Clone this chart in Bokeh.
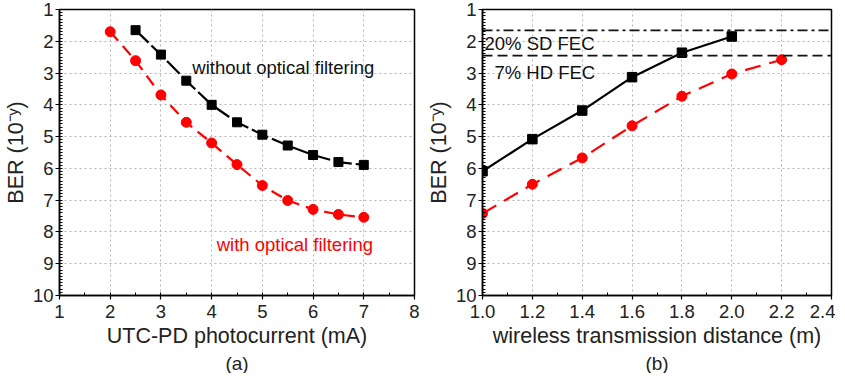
from bokeh.plotting import figure
from bokeh.models import Range1d, SingleIntervalTicker, FixedTicker, PrintfTickFormatter, Title, Span, Label
from bokeh.layouts import row
from bokeh.embed import file_html
from bokeh.resources import INLINE

# ---- data: panel (a) ----
current_wo = [2.5, 3.0, 3.5, 4.0, 4.5, 5.0, 5.5, 6.0, 6.5, 7.0]
ber_wo = [1.65, 2.42, 3.24, 4.0, 4.55, 4.94, 5.28, 5.58, 5.80, 5.89]
current_w = [2.0, 2.5, 3.0, 3.5, 4.0, 4.5, 5.0, 5.5, 6.0, 6.5, 7.0]
ber_w = [1.70, 2.61, 3.69, 4.55, 5.20, 5.88, 6.54, 7.01, 7.29, 7.45, 7.54]

# ---- data: panel (b) ----
dist_wo = [1.0, 1.2, 1.4, 1.6, 1.8, 2.0]
ber_dist_wo = [6.09, 5.08, 4.18, 3.13, 2.36, 1.85]
dist_w = [1.0, 1.2, 1.4, 1.6, 1.8, 2.0, 2.2]
ber_dist_w = [7.42, 6.50, 5.67, 4.66, 3.73, 3.03, 2.58]
sd_fec = 1.66
hd_fec = 2.45

xb_ticks = [1.0, 1.2, 1.4, 1.6, 1.8, 2.0, 2.2, 2.4]
xb_minor = [1.1, 1.3, 1.5, 1.7, 1.9, 2.1, 2.3]

FONT = "Liberation Sans"
RED = "#ff0000"
BLK = "#000000"


def style(p, xlabel, panel):
    p.outline_line_color = "black"
    p.outline_line_width = 1.5
    for ax in (p.xaxis[0], p.yaxis[0]):
        ax.axis_line_width = 1.5
        ax.major_tick_out = 4
        ax.major_tick_in = 0
        ax.minor_tick_in = 3
        ax.minor_tick_out = 0
        ax.major_tick_line_width = 1.2
        ax.minor_tick_line_width = 1
        ax.major_label_text_font = FONT
        ax.major_label_text_font_size = "18.5px"
        ax.major_label_text_color = "#222222"
        ax.axis_label_text_font = FONT
        ax.axis_label_text_font_size = "21.5px"
        ax.axis_label_text_font_style = "normal"
        ax.axis_label_text_color = "#222222"
    p.xaxis.axis_label = xlabel
    p.yaxis.axis_label = "BER (10⁻ʸ)"
    p.xaxis.major_label_standoff = 5
    p.xaxis.axis_label_standoff = 3
    p.yaxis.major_label_standoff = 2
    p.yaxis.axis_label_standoff = 2
    p.grid.grid_line_color = "#b5b5b5"
    p.grid.grid_line_dash = "2 3"
    p.grid.grid_line_width = 1
    t = Title(text=panel, align="center", text_font=FONT, text_font_size="19px",
              text_font_style="normal", text_color="#222222", standoff=0, offset=0)
    p.add_layout(t, "below")


# ---- panel (a) ----
pa = figure(frame_width=355, frame_height=286, output_backend="svg", toolbar_location=None,
            x_range=Range1d(1, 8), y_range=Range1d(10, 1),
            min_border_left=56, min_border_right=9, min_border_top=9, min_border_bottom=68)
pa.xaxis.ticker = SingleIntervalTicker(interval=1, num_minor_ticks=2)
pa.yaxis.ticker = SingleIntervalTicker(interval=1, num_minor_ticks=10)
style(pa, "UTC-PD photocurrent (mA)", "(a)")

pa.line(current_w, ber_w, line_color=RED, line_width=2.2, line_dash="12 7")
pa.scatter(current_w, ber_w, marker="circle", size=10, fill_color=RED, line_color=RED)
pa.line(current_wo, ber_wo, line_color=BLK, line_width=2.2, line_dash="18 4")
pa.scatter(current_wo, ber_wo, marker="square", size=9, fill_color=BLK, line_color=BLK)

pa.add_layout(Label(x=3.62, y=2.82, text="without optical filtering", text_font=FONT,
                    text_font_size="18.5px", text_color="#111111", text_baseline="middle"))
pa.add_layout(Label(x=4.10, y=8.39, text="with optical filtering", text_font=FONT,
                    text_font_size="18.5px", text_color=RED, text_baseline="middle"))

# ---- panel (b) ----
pb = figure(frame_width=349, frame_height=286, output_backend="svg", toolbar_location=None,
            x_range=Range1d(1.0, 2.4), y_range=Range1d(10, 1),
            min_border_left=52, min_border_right=4, min_border_top=9, min_border_bottom=68)
pb.xaxis.ticker = FixedTicker(ticks=xb_ticks, minor_ticks=xb_minor)
pb.xaxis.formatter = PrintfTickFormatter(format="%.1f")
pb.yaxis.ticker = SingleIntervalTicker(interval=1, num_minor_ticks=10)
style(pb, "wireless transmission distance (m)", "(b)")

pb.add_layout(Span(location=sd_fec, dimension="width", line_color="#111111",
                   line_width=1.8, line_dash="10 4 3 4"))
pb.add_layout(Span(location=hd_fec, dimension="width", line_color="#111111",
                   line_width=1.8, line_dash="10 5"))
pb.line(dist_w, ber_dist_w, line_color=RED, line_width=2.2, line_dash="16 9")
pb.scatter(dist_w, ber_dist_w, marker="circle", size=10, fill_color=RED, line_color=RED)
pb.line(dist_wo, ber_dist_wo, line_color=BLK, line_width=2.2)
pb.scatter(dist_wo, ber_dist_wo, marker="square", size=9.5, fill_color=BLK, line_color=BLK)

pb.add_layout(Label(x=1.008, y=2.07, text="20% SD FEC", text_font=FONT,
                    text_font_size="18.5px", text_color="#111111", text_baseline="middle"))
pb.add_layout(Label(x=1.048, y=2.98, text="7% HD FEC", text_font=FONT,
                    text_font_size="18.5px", text_color="#111111", text_baseline="middle"))

layout = row(pa, pb)
open("out.html", "w").write(file_html(layout, INLINE))
